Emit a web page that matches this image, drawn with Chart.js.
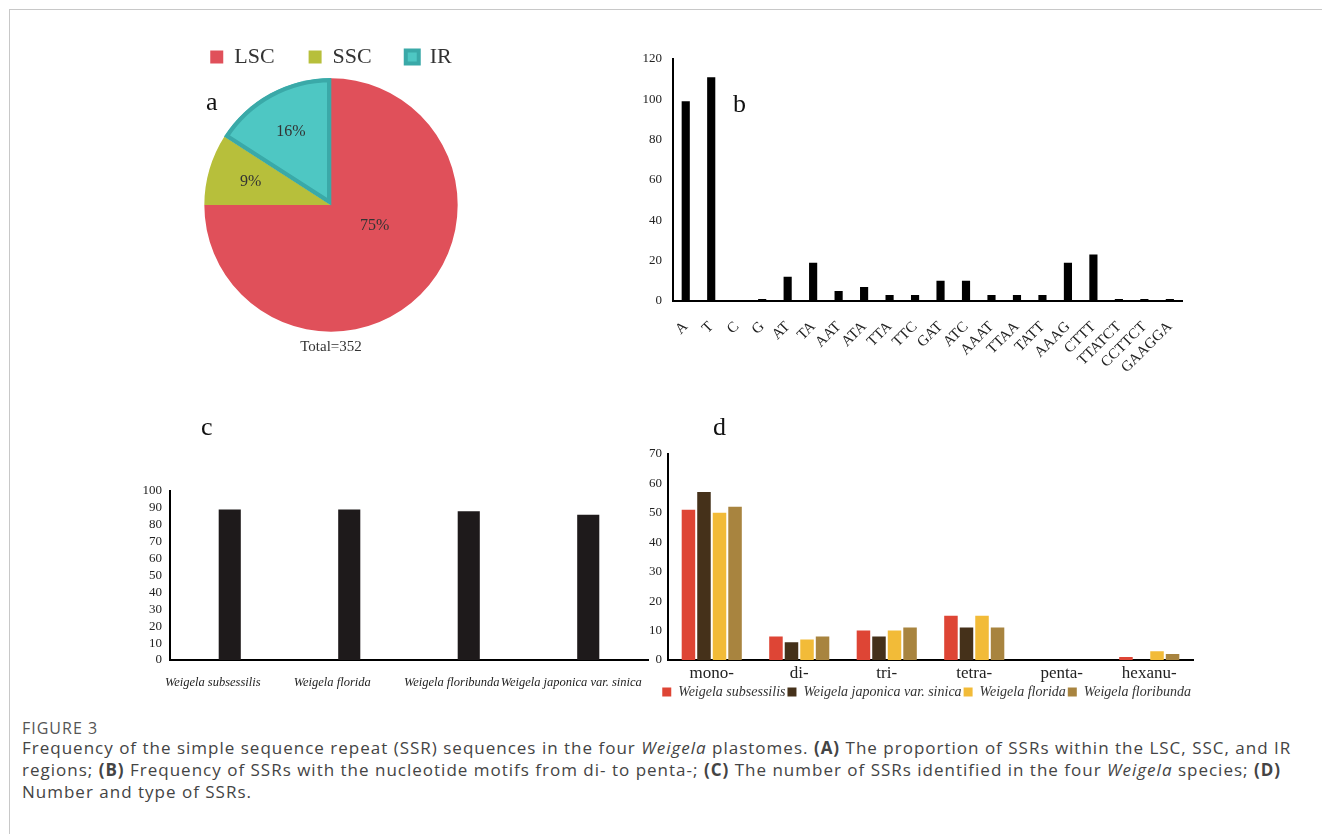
<!DOCTYPE html>
<html>
<head>
<meta charset="utf-8">
<script src="https://cdn.jsdelivr.net/npm/chart.js@4"></script>
<style>
  body{margin:0;background:#fff;width:1322px;height:834px;position:relative;overflow:hidden}
  .frame{position:absolute;left:9px;top:9px;right:-5px;bottom:-5px;border-left:1px solid #c8c8c8;border-top:1px solid #c8c8c8}
  canvas{position:absolute}
  .tag{position:absolute;font:26px "Liberation Serif",serif;color:#111;line-height:1}
  .fig{position:absolute;left:22px;top:717px;font:16px "Open Sans",sans-serif;color:#555;letter-spacing:1px}
  .cap{position:absolute;left:22px;top:737px;font:17px/22px "Open Sans",sans-serif;color:#444;white-space:nowrap;letter-spacing:1px}
</style>
</head>
<body>
<div class="frame"></div>

<canvas id="chartA" width="440" height="344" style="left:111px;top:12px"></canvas>
<canvas id="chartB" width="600" height="340" style="left:600px;top:40px"></canvas>
<canvas id="chartC" width="640" height="230" style="left:100px;top:470px"></canvas>
<canvas id="chartD" width="620" height="269" style="left:600px;top:440px"></canvas>

<div class="tag" style="left:206px;top:89px">a</div>
<div class="tag" style="left:733px;top:91px">b</div>
<div class="tag" style="left:201px;top:414px">c</div>
<div class="tag" style="left:713px;top:414px">d</div>

<div class="fig">FIGURE 3</div>
<div class="cap">Frequency of the simple sequence repeat (SSR) sequences in the four <i>Weigela</i> plastomes. <b>(A)</b> The proportion of SSRs within the LSC, SSC, and IR<br>regions; <b>(B)</b> Frequency of SSRs with the nucleotide motifs from di- to penta-; <b>(C)</b> The number of SSRs identified in the four <i>Weigela</i> species; <b>(D)</b><br>Number and type of SSRs.</div>

<script>
// a: SSR location
const regionLabels = ["LSC", "SSC", "IR"];
const regionCounts = [264, 32, 56];
const regionColors = ["#e0505a", "#b7bf3b", "#4ec7c3"];

// b: motif frequency
const motifLabels = ["A","T","C","G","AT","TA","AAT","ATA","TTA","TTC","GAT","ATC","AAAT","TTAA","TATT","AAAG","CTTT","TTATCT","CCTTCT","GAAGGA"];
const motifCounts = [99, 111, 0.5, 1, 12, 19, 5, 7, 3, 3, 10, 10, 3, 3, 3, 19, 23, 1, 1, 1];
const motifTicks = [0, 20, 40, 60, 80, 100, 120];

// c: SSRs per species
const speciesLabels = ["Weigela subsessilis", "Weigela florida", "Weigela floribunda", "Weigela japonica var. sinica"];
const speciesTotals = [89, 89, 88, 86];

// d: SSR type per species
const typeLabels = ["mono-", "di-", "tri-", "tetra-", "penta-", "hexanu-"];
const subsessilis = [51, 8, 10, 15, 0, 1];
const japonica    = [57, 6, 8, 11, 0, 0];
const florida     = [50, 7, 10, 15, 0, 3];
const floribunda  = [52, 8, 11, 11, 0, 2];

Chart.defaults.font.family = '"Liberation Serif", "Times New Roman", serif';
Chart.defaults.color = "#222";
Chart.defaults.animation = false;
Chart.defaults.plugins.tooltip.enabled = false;

const noGrid = {display:false, drawTicks:false};
const blackAxis = {color:"#000", width:2};

// percent text inside slices
const sliceText = {
  id: "sliceText",
  afterDatasetsDraw(chart){
    const ctx = chart.ctx;
    const total = regionCounts.reduce((a,b)=>a+b, 0);
    ctx.save();
    ctx.font = '16px "Liberation Serif", serif';
    ctx.fillStyle = "#333";
    ctx.textAlign = "center";
    ctx.textBaseline = "middle";
    chart.getDatasetMeta(0).data.forEach((arc, i)=>{
      const p = arc.getProps(["x","y","startAngle","endAngle","outerRadius"], true);
      const share = regionCounts[i] / total;
      // the big slice gets its label pulled a bit toward the 3 o'clock side
      const mid = (p.startAngle + p.endAngle) / 2 - (share > 0.5 ? 0.35 : 0);
      const r = p.outerRadius * (share > 0.5 ? 0.38 : 0.66);
      ctx.fillText(Math.round(share*100) + "%", p.x + Math.cos(mid)*r, p.y + Math.sin(mid)*r);
    });
    ctx.restore();
  }
};

new Chart(document.getElementById("chartA"), {
  type: "pie",
  data: {
    labels: regionLabels,
    datasets: [{
      data: regionCounts,
      backgroundColor: regionColors,
      borderColor: ["#e0505a", "#b7bf3b", "#3aa9a8"],
      borderWidth: [0, 0, 4],
      borderAlign: "inner",
      hoverOffset: 0
    }]
  },
  options: {
    responsive: false,
    plugins: {
      legend: {position:"top", labels:{boxWidth:13, boxHeight:13, padding:34, color:"#333", font:{size:22}}},
      title: {display:true, position:"bottom", text:"Total=352", color:"#333", font:{size:15, weight:"normal"}, padding:{top:6, bottom:0}}
    }
  },
  plugins: [sliceText]
});

new Chart(document.getElementById("chartB"), {
  type: "bar",
  data: {labels: motifLabels, datasets: [{data: motifCounts, backgroundColor:"#000", categoryPercentage:1, barPercentage:0.32}]},
  options: {
    responsive: false,
    layout: {padding:{top:19, right:17}},
    plugins: {legend:{display:false}},
    scales: {
      x: {grid:noGrid, border:blackAxis, ticks:{minRotation:45, maxRotation:45, autoSkip:false, padding:17, font:{size:15}}, afterFit: s=>{ s.height = 79; }},
      y: {min:0, max:120, grid:noGrid, border:blackAxis,
          afterBuildTicks: s=>{ s.ticks = motifTicks.map(v=>({value:v})); },
          ticks:{padding:11, font:{size:13}}, afterFit: s=>{ s.width = 73; }}
    }
  }
});

new Chart(document.getElementById("chartC"), {
  type: "bar",
  data: {labels: speciesLabels, datasets: [{data: speciesTotals, backgroundColor:"#1e1a1b", categoryPercentage:1, barPercentage:0.185}]},
  options: {
    responsive: false,
    layout: {padding:{top:21, right:92}},
    plugins: {legend:{display:false}},
    scales: {
      x: {grid:noGrid, border:blackAxis, ticks:{maxRotation:0, autoSkip:false, padding:15, labelOffset:-17, font:{size:12.5, style:"italic"}}, afterFit: s=>{ s.height = 40; }},
      y: {min:0, max:100, grid:noGrid, border:blackAxis, ticks:{stepSize:10, autoSkip:false, padding:8, font:{size:13}}, afterFit: s=>{ s.width = 70; }}
    }
  }
});

new Chart(document.getElementById("chartD"), {
  type: "bar",
  data: {
    labels: typeLabels,
    datasets: [
      {label:"Weigela subsessilis", data: subsessilis, backgroundColor:"#de4535"},
      {label:"Weigela japonica var. sinica", data: japonica, backgroundColor:"#45311a"},
      {label:"Weigela florida", data: florida, backgroundColor:"#f2bb38"},
      {label:"Weigela floribunda", data: floribunda, backgroundColor:"#a8843f"}
    ]
  },
  options: {
    responsive: false,
    datasets: {bar:{categoryPercentage:0.71, barPercentage:0.87}},
    layout: {padding:{top:12, right:27, left:30}},
    plugins: {
      legend: {position:"bottom", align:"end", labels:{boxWidth:9, boxHeight:9, padding:2, color:"#333", font:{size:14, style:"italic"}}}
    },
    scales: {
      x: {grid:noGrid, border:blackAxis, ticks:{maxRotation:0, autoSkip:false, padding:3, font:{size:17}}, afterFit: s=>{ s.height = 23; }},
      y: {min:0, max:70, grid:noGrid, border:blackAxis, ticks:{stepSize:10, padding:6, font:{size:13}}, afterFit: s=>{ s.width = 38; }}
    }
  }
});
</script>
</body>
</html>
